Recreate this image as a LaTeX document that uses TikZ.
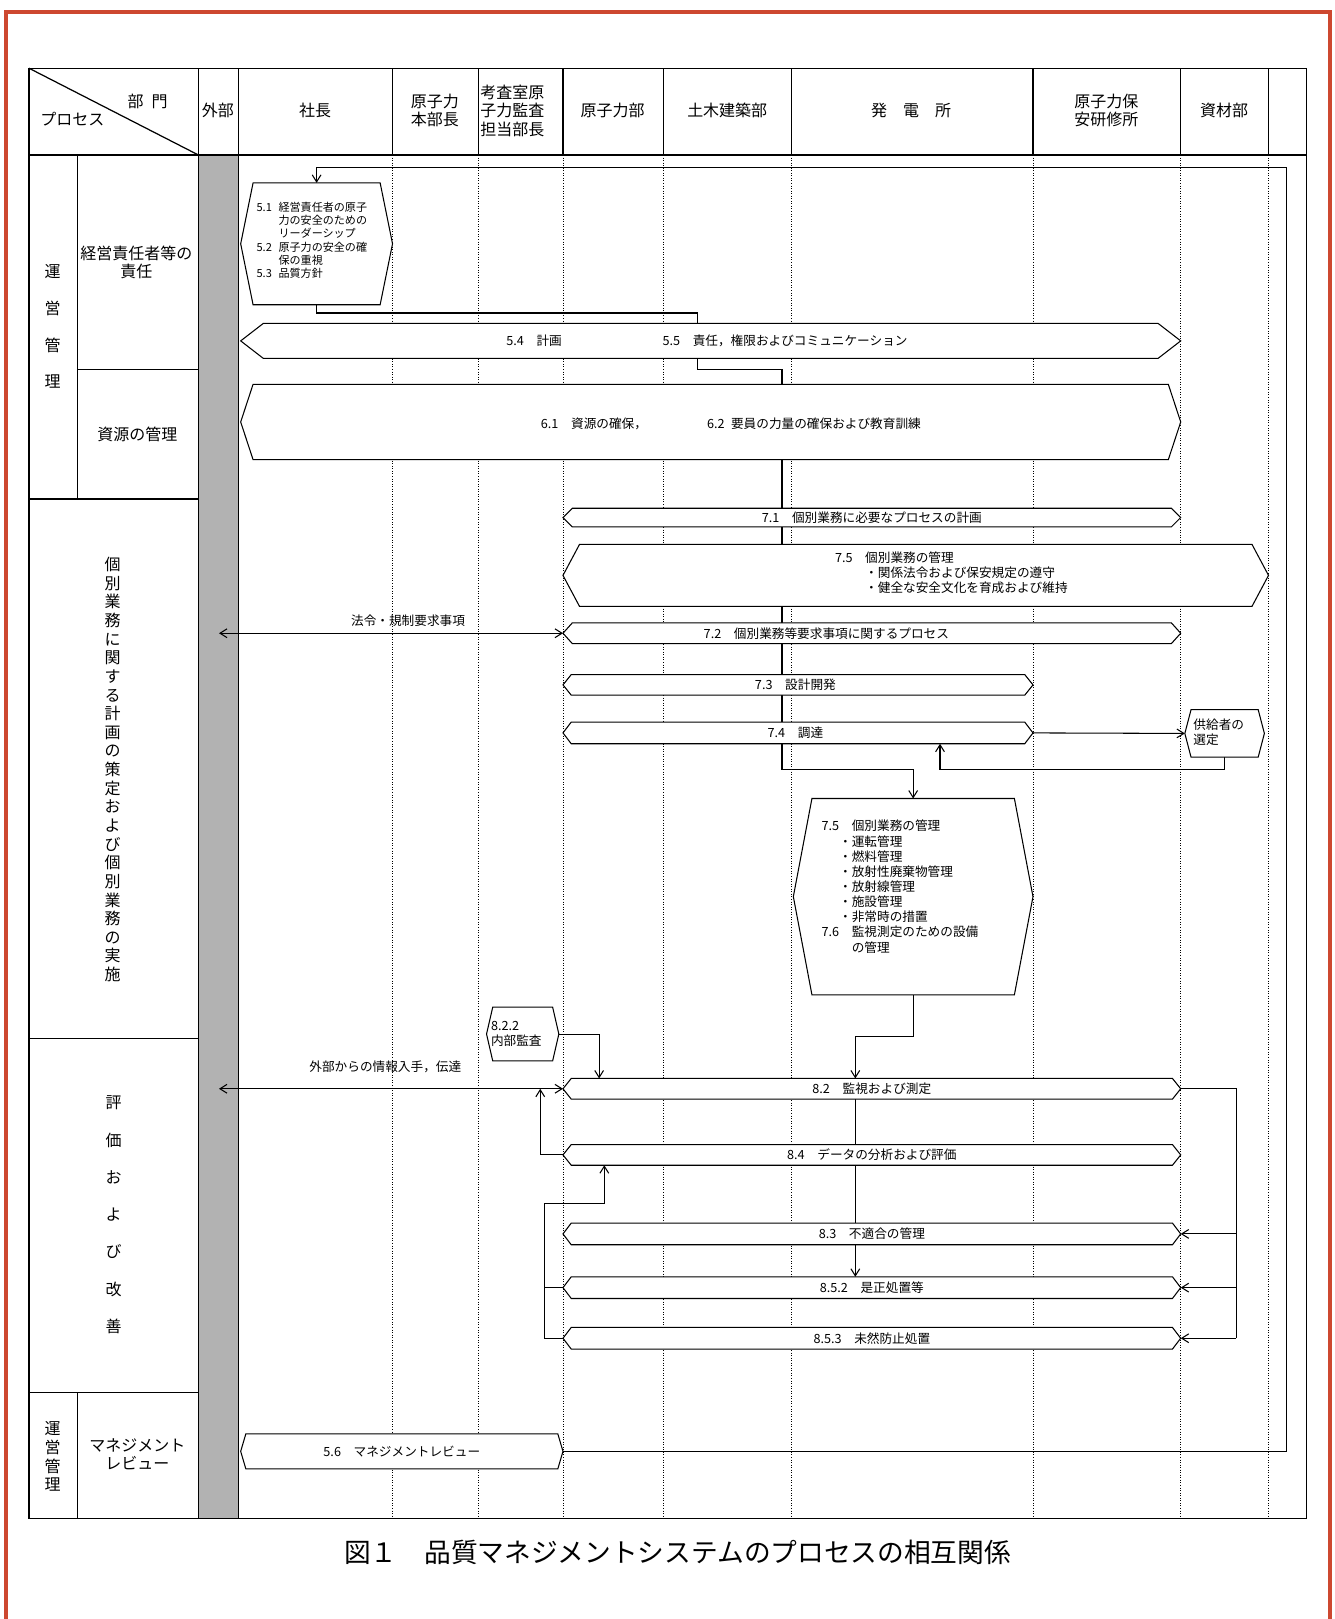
\documentclass[tikz,border=0pt]{standalone}
\usepackage{fontspec}
\setmainfont{Noto Sans CJK JP}
\usetikzlibrary{arrows.meta,calc,backgrounds}

\definecolor{framered}{RGB}{205,72,48}
\definecolor{bandgray}{RGB}{178,178,178}

\newcommand{\pxu}{0.02066cm}

\tikzset{
  hdr/.style={font=\fontsize{9.1}{10.5}\selectfont, align=center, inner sep=0pt},
  bartext/.style={font=\fontsize{7.2}{8.5}\selectfont, inner sep=0pt},
  boxtext/.style={font=\fontsize{7.2}{8.5}\selectfont, inner sep=0pt, anchor=west},
  lane/.style={densely dotted, line width=0.45pt},
  grid/.style={line width=0.7pt},
  bar/.style={draw, fill=white, line width=0.6pt},
  conn/.style={line width=0.6pt},
  arr/.style={conn, -{Straight Barb[length=4pt,width=5pt]}},
  twoway/.style={conn, {Straight Barb[length=4pt,width=5pt]}-{Straight Barb[length=4pt,width=5pt]}},
}

% hexagonal process bar: name, x1, y1, x2, y2, tip depth
\newcommand{\hexbar}[6]{%
  \node[minimum width={(#4-#2)*\pxu}, minimum height={(#5-#3)*\pxu}, inner sep=0pt, outer sep=0pt] (#1) at ({(#2+#4)/2},{(#3+#5)/2}) {};
  \draw[bar] (#1.west) -- ([xshift={#6*\pxu}]#1.north west) -- ([xshift={-#6*\pxu}]#1.north east) -- (#1.east)
    -- ([xshift={-#6*\pxu}]#1.south east) -- ([xshift={#6*\pxu}]#1.south west) -- cycle;
}

\begin{document}
\begin{tikzpicture}[x=\pxu, y=-\pxu]
  \useasboundingbox (0,0) rectangle (1292.3,1567.3);

  %% red frame
  \draw[framered, line width=0.08cm] (6,1567.3) -- (6,12) -- (1288,12) -- (1288,1567.3);

  %% table
  \draw[grid] (28,66) rectangle (1265,1470);
  \draw[grid] (28,150) -- (1265,150);
  \draw[grid] (28,66) -- (192,150);
  \foreach \x in {192,231,380,463,545,642,766,1000,1143,1228}
    \draw[grid] (\x,66) -- (\x,150);
  \draw[grid] (192,150) -- (192,1470);
  \draw[grid] (231,150) -- (231,1470);
    \draw[grid] (75,150) -- (75,483);
    \draw[grid] (75,358) -- (192,358);
  \draw[grid] (28,483) -- (192,483);
  \draw[grid] (28,1005) -- (192,1005);
  \draw[grid] (28,1348) -- (192,1348);
    \draw[grid] (75,1348) -- (75,1470);

  %% header
  \node[hdr] (hDept) at (143,98) {部\hspace{0.5em}門};
  \node[hdr] (hProc) at (70,115) {プロセス};
  \node[hdr] (hExt) at (211,107) {外部};
  \node[hdr] (hPres) at (305,107) {社長};
  \node[hdr] (hHonbu) at (421,107) {原子力\\本部長};
  \node[hdr] (hAudit) at (496,107) {考査室原\\子力監査\\担当部長};
  \node[hdr] (hNuc) at (593,107) {原子力部};
  \node[hdr] (hCivil) at (704,107) {土木建築部};
  \node[hdr] (hPlant) at (882,107) {発\hspace{1em}電\hspace{1em}所};
  \node[hdr] (hTrain) at (1071,107) {原子力保\\安研修所};
  \node[hdr] (hMat) at (1185,107) {資材部};

  %% row heads
  \node[hdr, font=\fontsize{9.1}{21}\selectfont] (rMgmt) at (51,316) {運\\営\\管\\理};
  \node[hdr] (rResp) at (132,254) {経営責任者等の\\責任};
  \node[hdr] (rRes) at (133,421) {資源の管理};
  \node[hdr, font=\fontsize{9.1}{10.6}\selectfont] (rPlan) at (109,745)
    {個\\別\\業\\務\\に\\関\\す\\る\\計\\画\\の\\策\\定\\お\\よ\\び\\個\\別\\業\\務\\の\\実\\施};
  \node[hdr, font=\fontsize{9.1}{21.2}\selectfont] (rEval) at (110,1176) {評\\価\\お\\よ\\び\\改\\善};
  \node[hdr, font=\fontsize{9.1}{10.7}\selectfont] (rMgmt2) at (51,1410) {運\\営\\管\\理};
  \node[hdr] (rReview) at (133,1408) {マネジメント\\レビュー};

  %% L1 management
  \hexbar{b51}{233}{177}{380}{295}{12}
  \node[boxtext, font=\fontsize{6.3}{7.45}\selectfont] (t51) at (248,234)
    {\begin{tabular}{@{}l@{\hspace{0.6em}}l@{}}5.1 & 経営責任者の原子\\ & 力の安全のための\\ & リーダーシップ\\
      5.2 & 原子力の安全の確\\ & 保の重視\\ 5.3 & 品質方針\end{tabular}};
  \hexbar{b54}{233}{313}{1143}{347}{22}
    \node[bartext] (t54) at (517,330) {5.4\hspace{1em}計画};
    \node[bartext] (t55) at (760,330) {5.5\hspace{1em}責任，権限およびコミュニケーション};
  \hexbar{b61}{233}{372}{1143}{445}{12}
    \node[bartext] (t61) at (575,410) {6.1\hspace{1em}資源の確保，};
    \node[bartext] (t62) at (788,410) {6.2\hspace{0.5em}要員の力量の確保および教育訓練};

  %% L2 individual work
  \hexbar{b71}{545}{492}{1143}{510}{9}
    \node[bartext] (t71) at (b71) {7.1\hspace{1em}個別業務に必要なプロセスの計画};
  \hexbar{b75w}{545}{527}{1228}{587}{16}
    \node[boxtext] (t75w) at (808,556) {\begin{tabular}{@{}l@{\hspace{1em}}l@{}}7.5 & 個別業務の管理\\
      & ・関係法令および保安規定の遵守\\ & ・健全な安全文化を育成および維持\end{tabular}};
  \hexbar{b72}{545}{603}{1143}{623}{9}
    \node[bartext] (t72) at (800,613) {7.2\hspace{1em}個別業務等要求事項に関するプロセス};
  \hexbar{b73}{545}{653}{1000}{673}{8}
    \node[bartext] (t73) at (770,663) {7.3\hspace{1em}設計開発};
  \hexbar{b74}{545}{699}{1000}{720}{8}
    \node[bartext] (t74) at (770,709) {7.4\hspace{1em}調達};
  \hexbar{sup}{1147}{687}{1224}{733}{6}
    \node[boxtext, align=left] (tsup) at (1155,709) {供給者の\\選定};
  \hexbar{b75}{768}{773}{1000}{963}{18}
    \node[boxtext] (t75) at (795,860) {\begin{tabular}{@{}l@{\hspace{1em}}l@{}}7.5 & 個別業務の管理\\
      & \llap{・}運転管理\\ & \llap{・}燃料管理\\ & \llap{・}放射性廃棄物管理\\ & \llap{・}放射線管理\\
      & \llap{・}施設管理\\ & \llap{・}非常時の措置\\ 7.6 & 監視測定のための設備\\ & の管理\end{tabular}};

  %% L3 evaluation
  \hexbar{b822}{471}{975}{541}{1027}{6}
    \node[boxtext, align=left] (t822) at (475,1001) {8.2.2\\内部監査};
  \hexbar{b82}{545}{1044}{1143}{1064}{8}
    \node[bartext] (t82) at (b82) {8.2\hspace{1em}監視および測定};
  \hexbar{b84}{545}{1108}{1143}{1128}{8}
    \node[bartext] (t84) at (b84) {8.4\hspace{1em}データの分析および評価};
  \hexbar{b83}{545}{1184}{1143}{1205}{8}
    \node[bartext] (t83) at (b83) {8.3\hspace{1em}不適合の管理};
  \hexbar{b852}{545}{1236}{1143}{1257}{8}
    \node[bartext] (t852) at (b852) {8.5.2\hspace{1em}是正処置等};
  \hexbar{b853}{545}{1285}{1143}{1306}{8}
    \node[bartext] (t853) at (b853) {8.5.3\hspace{1em}未然防止処置};

  %% L4 review
  \hexbar{b56}{233}{1388}{545}{1422}{5}
    \node[bartext] (t56) at (b56) {5.6\hspace{1em}マネジメントレビュー};

  %% labels
  \node[bartext] (lLaw) at (395,601) {法令・規制要求事項};
  \node[bartext] (lInfo) at (373,1033) {外部からの情報入手，伝達};

  %% caption
  \node[font=\fontsize{15.2}{17}\selectfont, inner sep=0pt] (cap) at (656,1503)
    {図１\hspace{1em}品質マネジメントシステムのプロセスの相互関係};

  \coordinate (loopR) at (1245,162);
  \coordinate (c1) at (675,303);
  \coordinate (c2) at (757,358);
  \coordinate (c3) at (757,745);
  \coordinate (c4) at (828,1003);
  \coordinate (c5) at (580,1008);
  \coordinate (c6) at (910,745);
  \coordinate (c7) at (523,1054);
  \coordinate (c8) at (1197,1054);
  \coordinate (c9) at (527,1165);
  \coordinate (c10) at (585,1165);
  \coordinate (ext72) at (212,613);
  \coordinate (ext82) at (212,1054);

  \begin{scope}[on background layer]
    %% outside band and lanes
    \fill[bandgray] (192,150) rectangle (231,1470);
    \foreach \x in {380,463,545,642,766,1000,1143,1228}
      \draw[lane] (\x,150) -- (\x,1470);

    %% connectors
    \draw[arr] (b56.east) -| (loopR) -| (b51.north);
    \draw[conn] (b51.south) |- (c1) -- (c1 |- b54.north);
    \draw[conn] (c1 |- b54.south) |- (c2) -- (c2 |- b61.north);
    \draw[arr] (c2 |- b61.south) -- (c3) -| (b75.north);
    \draw[twoway] (ext72) -- (b72.west);
    \draw[arr] (b74.east) -- (sup.west);
    \draw[arr] (sup.south) |- (c6) -- (c6 |- b74.south);
    \draw[arr] (b75.south) |- (c4) -- (c4 |- b82.north);
    \draw[arr] (b822.east) -| (c5 |- b82.north);
    \draw[twoway] (ext82) -- (b82.west);
    \draw[arr] (b84.west) -| (c7);
    \draw[conn] (c4 |- b82.south) -- (c4 |- b83.north);
    \draw[arr] (c4 |- b83.south) -- (c4 |- b852.north);
    \draw[conn] (b82.east) -| (c8 |- b853.east);
      \draw[arr] (c8 |- b83.east) -- (b83.east);
      \draw[arr] (c8 |- b852.east) -- (b852.east);
      \draw[arr] (c8 |- b853.east) -- (b853.east);
    \draw[arr] (b853.west) -| (c9) -- (c10) -- (c10 |- b84.south);
    \draw[conn] (b852.west) -- (c9 |- b852.west);
  \end{scope}
\end{tikzpicture}
\end{document}
